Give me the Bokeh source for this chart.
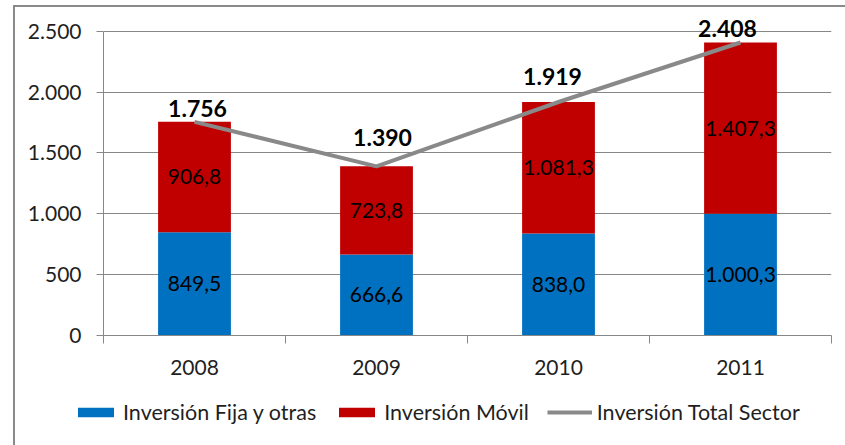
from bokeh.plotting import figure
from bokeh.layouts import column
from bokeh.models import ColumnDataSource, FixedTicker, Legend, LegendItem
from bokeh.core.properties import value
from bokeh.embed import file_html
from bokeh.resources import INLINE

years = ["2008", "2009", "2010", "2011"]
fija = [849.5, 666.6, 838.0, 1000.3]
movil = [906.8, 723.8, 1081.3, 1407.3]
total = [1756, 1390, 1919, 2408]
y_ticks = [0, 500, 1000, 1500, 2000, 2500]
series_names = ["Inversión Fija y otras", "Inversión Móvil",
                "Inversión Total Sector"]

# manual label nudges (screen px) for the total labels, as in the original
tot_dx = [3, 6, -6, -13]
tot_up = [13, 29, 26, 14]

FONT = "Lato"
TXT = "#1f1f1f"
GRAY = "#878787"
BLUE = "#0070C0"
RED = "#C00000"
LINE = "#898989"


def es(v, dec):
    s = f"{v:,.{dec}f}"
    return s.replace(",", "X").replace(".", ",").replace("X", ".")


xs = [i + 1 for i in range(len(years))]
src = ColumnDataSource(dict(
    x=xs,
    fija=fija,
    movil=movil,
    total=total,
    mid_f=[f / 2 for f in fija],
    mid_m=[f + m / 2 for f, m in zip(fija, movil)],
    lab_f=[es(v, 1) for v in fija],
    lab_m=[es(v, 1) for v in movil],
    lab_t=[es(v, 0) for v in total],
    dx=tot_dx,
    dy=[-d for d in tot_up],
))

p = figure(width=845, height=385, x_range=(0.5, 4.5), y_range=(0, 2630),
           output_backend="svg", toolbar_location=None,
           min_border_left=103, min_border_right=14, min_border_top=15,
           min_border_bottom=50)
p.frame_align = False
p.outline_line_color = None
p.background_fill_color = "white"
p.border_fill_color = None

bars = p.vbar_stack(["fija", "movil"], x="x", width=0.4,
                    color=[BLUE, RED], line_color=None, source=src)
ln = p.line("x", "total", line_color=LINE, line_width=4, source=src)

p.text(x="x", y="mid_f", text="lab_f", source=src, text_align="center",
       text_baseline="middle", text_font=value(FONT), text_font_size="21px",
       text_color="#000000")
p.text(x="x", y="mid_m", text="lab_m", source=src, text_align="center",
       text_baseline="middle", text_font=value(FONT), text_font_size="21px",
       text_color="#000000")
p.text(x="x", y="total", text="lab_t", source=src, text_align="center",
       text_baseline="alphabetic", x_offset="dx", y_offset="dy",
       text_font=value(FONT), text_font_size="23px", text_font_style="bold",
       text_color="#000000")

# axes
p.xgrid.visible = False
p.ygrid.grid_line_color = GRAY
p.ygrid.ticker = FixedTicker(ticks=y_ticks)

p.yaxis.ticker = FixedTicker(ticks=y_ticks)
p.yaxis.bounds = (0, 2500)
p.yaxis.major_label_overrides = {t: es(t, 0) for t in y_ticks}
p.yaxis.major_tick_out = 7
p.yaxis.major_tick_in = 0
p.yaxis.minor_tick_out = 0
p.yaxis.minor_tick_in = 0
p.yaxis.axis_line_color = GRAY
p.yaxis.major_tick_line_color = GRAY
p.yaxis.major_label_standoff = 15
p.yaxis.major_label_text_font = FONT
p.yaxis.major_label_text_font_size = "21px"
p.yaxis.major_label_text_color = TXT

p.xaxis.ticker = FixedTicker(ticks=xs, minor_ticks=[0.5, 1.5, 2.5, 3.5, 4.5])
p.xaxis.major_label_overrides = {x: y for x, y in zip(xs, years)}
p.xaxis.major_tick_out = 0
p.xaxis.major_tick_in = 0
p.xaxis.minor_tick_out = 8
p.xaxis.minor_tick_in = 0
p.xaxis.minor_tick_line_color = GRAY
p.xaxis.axis_line_color = GRAY
p.xaxis.major_label_standoff = 16
p.xaxis.major_label_text_font = FONT
p.xaxis.major_label_text_font_size = "21px"
p.xaxis.major_label_text_color = TXT

# legend strip (separate figure below the chart; its glyphs use the same
# data, kept outside the visible range so only the legend shows)
lg = figure(width=845, height=60, x_range=(-20, -19), y_range=(-20, -19),
            output_backend="svg", toolbar_location=None,
            x_axis_type=None, y_axis_type=None,
            min_border_left=0, min_border_right=0, min_border_top=0,
            min_border_bottom=0)
lg.frame_align = False
lg.outline_line_color = None
lg.grid.visible = False
lg.background_fill_color = None
lg.border_fill_color = None
lb = lg.vbar(x="x", top="fija", width=0.4, color=BLUE, line_color=None,
             source=src)
lr = lg.vbar(x="x", top="movil", width=0.4, color=RED, line_color=None,
             source=src)
ll = lg.line(x="x", y="total", line_color=LINE, line_width=4, source=src)

legend = Legend(items=[
    LegendItem(label=series_names[0], renderers=[lb]),
    LegendItem(label=series_names[1], renderers=[lr]),
    LegendItem(label=series_names[2], renderers=[ll]),
], location=(73, 20), orientation="horizontal", glyph_width=45,
    glyph_height=12, label_height=22, label_standoff=5, spacing=18,
    padding=0, margin=0, border_line_color=None, background_fill_alpha=0,
    label_text_font=FONT, label_text_font_size="21.5px",
    label_text_color=TXT)
lg.add_layout(legend)

layout = column(p, lg, spacing=0, styles={
    "background-color": "white",
    "box-shadow": "inset 13px 5px 0 0 white, inset 15px 7px 0 0 #8a8a8a",
})

open("out.html", "w").write(file_html(layout, INLINE))
